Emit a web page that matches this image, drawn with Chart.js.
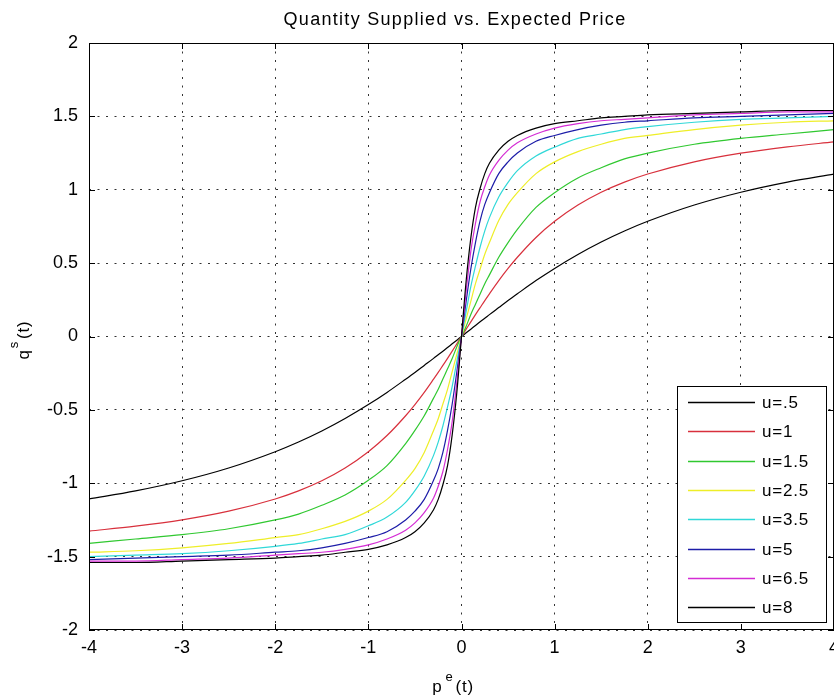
<!DOCTYPE html>
<html><head><meta charset="utf-8">
<script src="https://cdn.jsdelivr.net/npm/chart.js@4.4.1/dist/chart.umd.min.js"></script>
<style>html,body{margin:0;padding:0;background:#fff;overflow:hidden}#wrap{width:834px;height:700px;}</style>
</head><body><div id="wrap"><canvas id="c" width="834" height="700"></canvas></div>
<script>
const titleText = 'Quantity Supplied vs. Expected Price';
const xTicks = [-4,-3,-2,-1,0,1,2,3,4];
const yTicks = [-2,-1.5,-1,-0.5,0,0.5,1,1.5,2];
const pValues = [-4,-3.5,-3,-2.5,-2,-1.75,-1.5,-1.25,-1,-0.8,-0.6,-0.5,-0.4,-0.3,-0.25,-0.2,-0.15,-0.1,-0.05,0,0.05,0.1,0.15,0.2,0.25,0.3,0.4,0.5,0.6,0.8,1,1.25,1.5,1.75,2,2.5,3,3.5,4];
const seriesLabels = ['u=.5','u=1','u=1.5','u=2.5','u=3.5','u=5','u=6.5','u=8'];
const seriesColors = ['#000000','#d8303c','#30c830','#eeee28','#30d8d8','#1c1ca8','#d42cd4','#000000'];
const qU05 = [-1.107,-1.052,-0.983,-0.896,-0.785,-0.719,-0.644,-0.559,-0.464,-0.381,-0.291,-0.245,-0.197,-0.149,-0.124,-0.100,-0.075,-0.050,-0.025,0,0.025,0.050,0.075,0.100,0.124,0.149,0.197,0.245,0.291,0.381,0.464,0.559,0.644,0.719,0.785,0.896,0.983,1.052,1.107];
const qU1 = [-1.326,-1.292,-1.249,-1.190,-1.107,-1.052,-0.983,-0.896,-0.785,-0.675,-0.540,-0.464,-0.381,-0.291,-0.245,-0.197,-0.149,-0.100,-0.050,0,0.050,0.100,0.149,0.197,0.245,0.291,0.381,0.464,0.540,0.675,0.785,0.896,0.983,1.052,1.107,1.190,1.249,1.292,1.326];
const qU15 = [-1.41,-1.38,-1.35,-1.31,-1.25,-1.21,-1.15,-1.08,-0.98,-0.88,-0.73,-0.64,-0.54,-0.42,-0.36,-0.29,-0.22,-0.15,-0.07,0,0.07,0.15,0.22,0.29,0.36,0.42,0.54,0.64,0.73,0.88,0.98,1.08,1.15,1.21,1.25,1.31,1.35,1.38,1.41];
const qU25 = [-1.47,-1.46,-1.44,-1.41,-1.37,-1.35,-1.31,-1.26,-1.19,-1.11,-0.98,-0.90,-0.79,-0.64,-0.56,-0.46,-0.36,-0.24,-0.12,0,0.12,0.24,0.36,0.46,0.56,0.64,0.79,0.90,0.98,1.11,1.19,1.26,1.31,1.35,1.37,1.41,1.44,1.46,1.47];
const qU35 = [-1.50,-1.49,-1.48,-1.46,-1.43,-1.41,-1.38,-1.35,-1.29,-1.23,-1.13,-1.05,-0.95,-0.81,-0.72,-0.61,-0.48,-0.34,-0.17,0,0.17,0.34,0.48,0.61,0.72,0.81,0.95,1.05,1.13,1.23,1.29,1.35,1.38,1.41,1.43,1.46,1.48,1.49,1.50];
const qU5 = [-1.52,-1.51,-1.50,-1.49,-1.47,-1.46,-1.44,-1.41,-1.37,-1.33,-1.25,-1.19,-1.11,-0.98,-0.90,-0.79,-0.64,-0.46,-0.24,0,0.24,0.46,0.64,0.79,0.90,0.98,1.11,1.19,1.25,1.33,1.37,1.41,1.44,1.46,1.47,1.49,1.50,1.51,1.52];
const qU65 = [-1.53,-1.53,-1.52,-1.51,-1.49,-1.48,-1.47,-1.45,-1.42,-1.38,-1.32,-1.27,-1.20,-1.10,-1.02,-0.92,-0.77,-0.58,-0.31,0,0.31,0.58,0.77,0.92,1.02,1.10,1.20,1.27,1.32,1.38,1.42,1.45,1.47,1.48,1.49,1.51,1.52,1.53,1.53];
const qU8 = [-1.54,-1.54,-1.53,-1.52,-1.51,-1.50,-1.49,-1.47,-1.45,-1.42,-1.37,-1.33,-1.27,-1.18,-1.11,-1.01,-0.88,-0.67,-0.38,0,0.38,0.67,0.88,1.01,1.11,1.18,1.27,1.33,1.37,1.42,1.45,1.47,1.49,1.50,1.51,1.52,1.53,1.54,1.54];
const seriesValues = [qU05,qU1,qU15,qU25,qU35,qU5,qU65,qU8];

const FONT = 'Liberation Sans, Arial, Helvetica, sans-serif';
const FS = 17;

const datasets = seriesValues.map((vals,i)=>({
  label: seriesLabels[i],
  data: vals.map((v,j)=>({x:pValues[j], y:v})),
  borderColor: seriesColors[i],
  backgroundColor: seriesColors[i],
  borderWidth: 1.2,
  pointRadius: 0,
  fill: false,
  cubicInterpolationMode: 'monotone',
  order: seriesValues.length - i
}));

function spaced(ctx, px){ if ('letterSpacing' in ctx) ctx.letterSpacing = px + 'px'; }

const decor = {
  id: 'decor',
  afterDatasetsDraw(chart){
    const {ctx, chartArea:a, scales:{x,y}} = chart;
    ctx.save();
    ctx.strokeStyle = '#000'; ctx.lineWidth = 1; ctx.setLineDash([]);
    ctx.strokeRect(a.left+0.5, a.top+0.5, a.right-a.left-1, a.bottom-a.top-1);
    ctx.beginPath();
    const TL = 6;
    x.ticks.forEach(t=>{
      const px = Math.round(x.getPixelForValue(t.value))+0.5;
      ctx.moveTo(px, a.bottom); ctx.lineTo(px, a.bottom-TL);
      ctx.moveTo(px, a.top); ctx.lineTo(px, a.top+TL);
    });
    y.ticks.forEach(t=>{
      const py = Math.round(y.getPixelForValue(t.value))+0.5;
      ctx.moveTo(a.left, py); ctx.lineTo(a.left+TL, py);
      ctx.moveTo(a.right, py); ctx.lineTo(a.right-TL, py);
    });
    ctx.stroke();
    // legend
    const lx = 677, ly = 386, lw = 149, lh = 236;
    ctx.fillStyle = '#fff';
    ctx.fillRect(lx, ly, lw, lh);
    ctx.strokeStyle = '#000';
    ctx.lineWidth = 1;
    ctx.strokeRect(lx+0.5, ly+0.5, lw, lh);
    ctx.font = FS + 'px ' + FONT;
    spaced(ctx, 0.8);
    ctx.textBaseline = 'middle';
    ctx.textAlign = 'left';
    seriesLabels.forEach((lab,i)=>{
      const cy = Math.round(ly + 16 + i*29.3) + 0.5;
      ctx.strokeStyle = seriesColors[i];
      ctx.lineWidth = 1.3;
      ctx.beginPath(); ctx.moveTo(688, cy); ctx.lineTo(755, cy); ctx.stroke();
      ctx.fillStyle = '#000';
      ctx.fillText(lab, 762, cy+1);
    });
    ctx.restore();
  },
  afterDraw(chart){
    const {ctx} = chart;
    ctx.save();
    ctx.fillStyle = '#000';
    ctx.font = '18px ' + FONT;
    spaced(ctx, 1.3);
    ctx.textAlign = 'center'; ctx.textBaseline = 'middle';
    ctx.fillText(titleText, 455, 20);
    spaced(ctx, 0.8);
    // x axis label p^e(t)
    const small = '13px ' + FONT;
    ctx.textBaseline = 'alphabetic'; ctx.textAlign = 'left';
    ctx.font = FS + 'px ' + FONT;
    const wp = ctx.measureText('p').width;
    const wt = ctx.measureText('(t)').width;
    ctx.font = small;
    const we = ctx.measureText('e').width;
    let total = wp + 3 + we + 2 + wt;
    let sx = 453 - total/2, by = 692;
    ctx.font = FS + 'px ' + FONT; ctx.fillText('p', sx, by);
    ctx.font = small; ctx.fillText('e', sx + wp + 3, by - 11);
    ctx.font = FS + 'px ' + FONT; ctx.fillText('(t)', sx + wp + 3 + we + 2, by);
    // y axis label q^s(t)
    ctx.translate(29, 340);
    ctx.rotate(-Math.PI/2);
    ctx.font = FS + 'px ' + FONT;
    const wq = ctx.measureText('q').width;
    ctx.font = small;
    const ws = ctx.measureText('s').width;
    total = wq + 1 + ws + 2 + wt;
    sx = -total/2;
    ctx.font = FS + 'px ' + FONT; ctx.fillText('q', sx, 0);
    ctx.font = small; ctx.fillText('s', sx + wq + 1, -11);
    ctx.font = FS + 'px ' + FONT; ctx.fillText('(t)', sx + wq + 1 + ws + 2, 0);
    ctx.restore();
  }
};

new Chart(document.getElementById('c'), {
  type: 'line',
  data: { datasets },
  options: {
    responsive: false,
    animation: false,
    devicePixelRatio: 1,
    layout: { padding: { top: 43, left: 0, right: 0, bottom: 0 } },
    plugins: { legend: { display: false }, tooltip: { enabled: false }, title: { display: false } },
    elements: { line: { tension: 0 } },
    scales: {
      x: {
        type: 'linear', min: -4, max: 4,
        afterBuildTicks(s){ s.ticks = xTicks.map(v=>({value:v})); },
        ticks: { color: '#000', font: { family: FONT, size: 18 }, padding: 7, maxRotation: 0, autoSkip: false, callback: v => String(v) },
        grid: { color: '#333', lineWidth: 1, drawTicks: false },
        border: { display: false, dash: [2, 6.5] },
        afterFit(s){ s.height = 70; s.paddingLeft = 0; s.paddingRight = 0; }
      },
      y: {
        type: 'linear', min: -2, max: 2,
        afterBuildTicks(s){ s.ticks = yTicks.map(v=>({value:v})); },
        ticks: { color: '#000', font: { family: FONT, size: 18 }, padding: 11, autoSkip: false, callback: v => String(v) },
        grid: { color: '#333', lineWidth: 1, drawTicks: false },
        border: { display: false, dash: [2, 6.5] },
        afterFit(s){ s.width = 89; s.paddingTop = 0; s.paddingBottom = 0; }
      }
    }
  },
  plugins: [decor]
});
</script></body></html>
